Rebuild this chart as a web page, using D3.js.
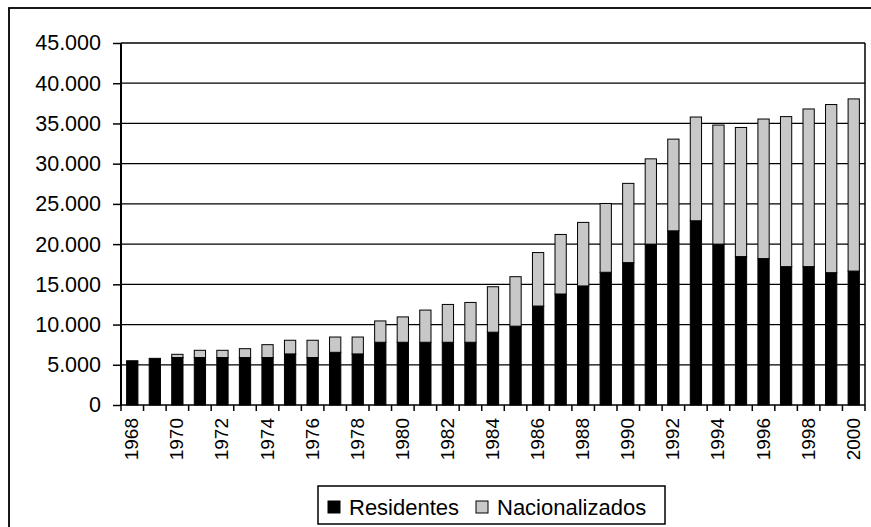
<!DOCTYPE html>
<html>
<head>
<meta charset="utf-8">
<script src="https://cdn.jsdelivr.net/npm/d3@7"></script>
<style>
  body { margin: 0; background: #fff; }
  svg { display: block; font-family: "Liberation Sans", Arial, sans-serif; }
</style>
</head>
<body>
<svg id="chart" width="871" height="527"></svg>
<script>
// years on the x axis
var years = d3.range(1968, 2001);
// residentes (black part)
var residentes = [5500, 5800, 5900, 5900, 5900, 5900, 5900, 6350, 5900, 6550, 6350,
  7800, 7800, 7800, 7800, 7800, 9050, 9800, 12300, 13800, 14800,
  16500, 17700, 20000, 21650, 22900, 20000, 18450, 18200, 17200, 17200, 16450, 16650];
// total height of each bar (residentes + nacionalizados)
var totals = [5500, 5800, 6300, 6800, 6800, 7000, 7500, 8050, 8050, 8450, 8450,
  10450, 10950, 11800, 12500, 12750, 14700, 15950, 18950, 21200, 22700,
  25050, 27550, 30600, 33050, 35800, 34800, 34500, 35550, 35850, 36800, 37350, 38050];
var nacionalizados = totals.map(function (t, i) { return t - residentes[i]; });
var yTicks = d3.range(0, 45001, 5000);
var seriesNames = ["Residentes", "Nacionalizados"];
var seriesColors = ["#000000", "#c8c8c8"];

var svg = d3.select("#chart");
var plotLeft = 121, plotRight = 865, plotTop = 43, plotBottom = 405;

// outer frame (runs off the right and bottom edge like the original)
svg.append("rect")
  .attr("x", 9).attr("y", 8)
  .attr("width", 880).attr("height", 540)
  .attr("fill", "none").attr("stroke", "#000").attr("stroke-width", 1.8);

var x = d3.scaleBand().domain(years).range([plotLeft, plotRight]).paddingInner(0.5).paddingOuter(0.25);
var xb = d3.scaleBand().domain(years).range([plotLeft, plotRight]);
var y = d3.scaleLinear().domain([0, 45000]).range([plotBottom, plotTop]);

// gridlines
svg.append("g")
  .selectAll("line")
  .data(yTicks.filter(function (d) { return d > 0; }))
  .enter()
  .append("line")
  .attr("x1", plotLeft).attr("x2", plotRight)
  .attr("y1", function (d) { return y(d); })
  .attr("y2", function (d) { return y(d); })
  .attr("stroke", "#000").attr("stroke-width", 1.3);

// right border of plot area
svg.append("line")
  .attr("x1", plotRight).attr("x2", plotRight).attr("y1", plotTop).attr("y2", plotBottom)
  .attr("stroke", "#000").attr("stroke-width", 1.5);

// stacked bars
var stackData = years.map(function (yr, i) {
  return { year: yr, Residentes: residentes[i], Nacionalizados: nacionalizados[i] };
});
var stack = d3.stack().keys(seriesNames)(stackData);

svg.append("g")
  .selectAll("g")
  .data(stack)
  .enter()
  .append("g")
  .attr("fill", function (d, i) { return seriesColors[i]; })
  .selectAll("rect")
  .data(function (d) { return d.filter(function (p) { return p[1] - p[0] > 0; }); })
  .enter()
  .append("rect")
  .attr("x", function (d) { return x(d.data.year); })
  .attr("width", x.bandwidth())
  .attr("y", function (d) { return y(d[1]); })
  .attr("height", function (d) { return y(d[0]) - y(d[1]); })
  .attr("stroke", "#000")
  .attr("stroke-width", 1);

// y axis
var yAxis = svg.append("g")
  .attr("transform", "translate(" + plotLeft + ",0)")
  .call(d3.axisLeft(y).tickValues(yTicks).tickSize(8).tickPadding(12)
    .tickFormat(function (d) { return d === 0 ? "0" : d3.format(",")(d).replace(/,/g, "."); }));
yAxis.select(".domain").attr("stroke-width", 2).attr("d", "M0," + plotBottom + "V" + plotTop);
yAxis.selectAll(".tick line").attr("stroke-width", 1.5);
yAxis.selectAll("text").attr("font-size", "21.5px").attr("fill", "#000").attr("font-family", "Liberation Sans, Arial, sans-serif");

// x axis: ticks at band boundaries, labels every second year
var xAxis = svg.append("g").attr("transform", "translate(0," + plotBottom + ")");
xAxis.append("line")
  .attr("x1", plotLeft).attr("x2", plotRight)
  .attr("stroke", "#000").attr("stroke-width", 1.5);
xAxis.selectAll("line.tk")
  .data(years.concat([2001]))
  .enter()
  .append("line")
  .attr("class", "tk")
  .attr("x1", function (d) { return d === 2001 ? plotRight : xb(d); })
  .attr("x2", function (d) { return d === 2001 ? plotRight : xb(d); })
  .attr("y1", 0).attr("y2", 6)
  .attr("stroke", "#000").attr("stroke-width", 1.5);
xAxis.selectAll("text")
  .data(years.filter(function (d) { return d % 2 === 0; }))
  .enter()
  .append("text")
  .attr("transform", function (d) {
    return "translate(" + (xb(d) + xb.bandwidth() / 2 + 6) + ",13) rotate(-90)";
  })
  .attr("text-anchor", "end")
  .attr("font-size", "19px")
  .text(function (d) { return d; });

// legend
var legend = svg.append("g");
legend.append("rect")
  .attr("x", 318).attr("y", 486).attr("width", 347).attr("height", 38)
  .attr("fill", "#fff").attr("stroke", "#000").attr("stroke-width", 1.5);
var legendX = [328, 476];
seriesNames.forEach(function (name, i) {
  legend.append("rect")
    .attr("x", legendX[i]).attr("y", 501).attr("width", 12).attr("height", 12)
    .attr("fill", seriesColors[i]).attr("stroke", "#000").attr("stroke-width", 1);
  legend.append("text")
    .attr("x", legendX[i] + 21).attr("y", 515)
    .attr("font-size", "22px")
    .text(name);
});
</script>
</body>
</html>
